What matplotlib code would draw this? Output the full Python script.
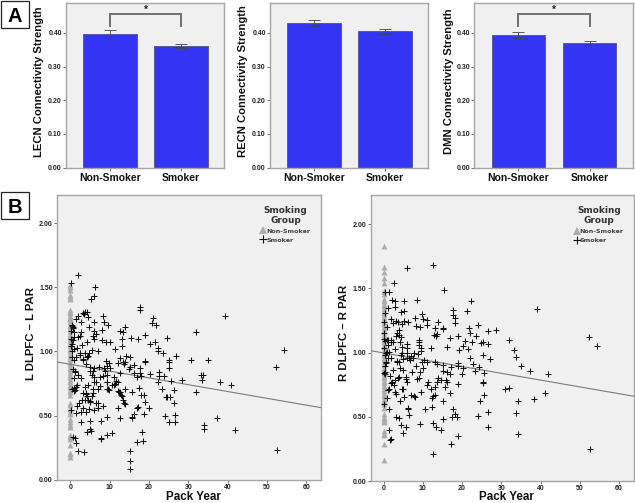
import matplotlib
matplotlib.use("Agg")
import matplotlib.pyplot as plt
from matplotlib.lines import Line2D
from matplotlib.patches import Rectangle
from matplotlib.transforms import ScaledTranslation

W, H = 635, 503
SANS = ["Liberation Sans", "DejaVu Sans"]
plt.rcParams["font.family"] = SANS

groups = ["Non-Smoker", "Smoker"]
lecn_vals = [0.398, 0.362]
lecn_err = [0.0105, 0.006]
recn_vals = [0.430, 0.405]
recn_err = [0.010, 0.008]
dmn_vals = [0.394, 0.369]
dmn_err = [0.009, 0.006]
bar_ticks = [0.0, 0.1, 0.2, 0.3, 0.4]
scatter_yticks = [0.0, 0.5, 1.0, 1.5, 2.0]
scatter_xticks = [0, 10, 20, 30, 40, 50, 60]

l_nonsmoker = [1.52, 1.50, 1.48, 1.44, 1.43, 1.42, 1.41, 1.32, 1.31, 1.30, 1.28, 1.26, 1.25, 1.23, 1.21,
               1.20, 1.18, 1.16, 1.14, 1.12, 1.10, 1.08, 1.06, 1.04, 1.02, 1.00, 0.98, 0.96, 0.94, 0.92,
               0.90, 0.88, 0.86, 0.84, 0.82, 0.80, 0.78, 0.76, 0.74, 0.72, 0.70, 0.68, 0.66, 0.60, 0.58,
               0.55, 0.53, 0.51, 0.47, 0.45, 0.43, 0.41, 0.35, 0.33, 0.32, 0.27, 0.21, 0.20, 0.18]
l_smoker_x = [2.0, 0.2, 6.2, 5.9, 5.2, 17.7, 17.6, 39.3, 8.3, 8.5, 9.6, 21.1, 20.7, 21.7, 31.9, 24.5, 18.9, 15.4,
              17.1, 13.9, 12.6, 13.3, 13.1, 13.1, 11.4, 10.2, 9.1, 8.1, 8.0, 4.3, 3.7, 3.1, 3.5, 1.9, 1.4, 2.6,
              0.5, 0.3, 0.6, 0.1, 6.0, 4.8, 6.0, 6.4, 5.7, 6.1, 2.5, 1.0, 2.0, 0.8, 2.7, 4.3, 0.7, 0.2, 0.8, 1.7,
              2.5, 3.6, 4.6, 5.4, 4.7, 2.9, 7.0, 30.8, 35.1, 33.2, 33.8, 33.6, 38.2, 41.0, 31.9, 37.2, 34.1, 34.1,
              41.9, 52.5, 52.4, 54.3, 26.9, 25.2, 25.2, 25.2, 23.6, 22.3, 22.2, 22.6, 22.6, 23.9, 22.2, 25.6, 23.3,
              26.4, 24.3, 25.3, 24.7, 26.4, 24.1, 26.7, 25.1, 26.5, 28.5, 20.3, 21.6, 19.1, 18.9, 20.2, 18.8, 18.1,
              18.9, 19.9, 18.8, 17.5, 18.6, 18.3, 17.0, 15.7, 16.1, 16.9, 17.2, 15.6, 15.1, 15.1, 15.1, 2.0, 3.4,
              1.4, 0.7, 1.1, 7.7, 7.9, 9.3, 10.7, 4.3, 5.0, 5.3, 2.6, 5.0, 7.9, 9.3, 12.6, 15.6, 1.5, 0.1, 2.6,
              4.0, 4.8, 6.1, 3.3, 1.6, 8.2, 12.2, 13.1, 13.3, 13.7, 14.0, 12.2, 12.6, 14.0, 7.0, 4.6, 3.6, 5.0,
              3.3, 4.1, 5.7, 5.8, 7.0, 9.3, 9.7, 9.3, 6.1, 4.6, 3.7, 0.4, 0.8, 1.2, 1.5, 1.0, 1.6, 17.6, 16.2, 14.9,
              15.2, 14.2, 15.2, 13.3, 13.9, 12.6, 12.0, 12.6, 16.1, 17.0, 17.7, 18.0, 11.0, 12.1, 11.4, 9.4, 7.6,
              5.9, 9.2, 11.0, 12.3, 9.0, 9.9, 9.3, 10.1, 7.3, 6.1, 5.7, 5.0, 3.9, 3.3, 2.4, 1.5, 1.0, 0.5, 0.3,
              0.6, 1.2, 1.9, 2.8, 3.2, 4.2, 4.9, 5.5, 6.6, 7.5, 8.6, 0.4, 0.9, 1.3, 0.2, 0.7, 4.5, 3.9, 3.0, 2.2,
              4.2, 5.1, 5.6, 6.4, 7.0, 8.3, 8.9, 9.8, 10.5, 11.7, 13.0, 13.6]
l_smoker_y = [1.60, 1.53, 1.505, 1.43, 1.41, 1.345, 1.32, 1.275, 1.277, 1.233, 1.207, 1.26, 1.222, 1.207, 1.15, 1.103,
              1.126, 1.108, 1.098, 1.19, 1.163, 1.15, 1.095, 1.043, 1.02, 1.07, 1.07, 1.09, 1.165, 1.31, 1.31, 1.30,
              1.29, 1.28, 1.25, 1.23, 1.21, 1.20, 1.18, 1.16, 1.233, 1.19, 1.157, 1.14, 1.12, 1.10, 1.12, 1.11, 1.11,
              1.155, 1.155, 1.07, 1.09, 1.04, 1.02, 1.03, 0.985, 0.99, 0.965, 1.015, 0.99, 1.05, 1.0, 0.936, 0.93,
              0.817, 0.817, 0.777, 0.76, 0.736, 0.684, 0.484, 0.43, 0.398, 0.39, 0.234, 0.876, 1.01, 0.962, 0.936,
              0.92, 0.869, 0.99, 1.0, 1.03, 0.843, 0.809, 0.806, 0.765, 0.767, 0.71, 0.70, 0.642, 0.642, 0.642, 0.598,
              0.494, 0.502, 0.452, 0.447, 0.777, 1.06, 1.077, 0.928, 0.915, 0.824, 0.658, 0.658, 0.608, 0.559, 0.512,
              0.713, 0.304, 0.369, 0.294, 0.486, 0.515, 0.562, 0.565, 0.681, 0.22, 0.148, 0.082, 0.22, 0.217, 0.29,
              0.33, 0.325, 0.327, 0.316, 0.346, 0.366, 0.375, 0.393, 0.377, 0.447, 0.458, 0.457, 0.49, 0.48, 0.483,
              0.517, 0.54, 0.53, 0.53, 0.55, 0.54, 0.56, 0.575, 0.578, 0.56, 0.65, 0.62, 0.595, 0.59, 0.69, 0.68,
              0.705, 0.60, 0.625, 0.625, 0.61, 0.675, 0.675, 0.705, 0.675, 0.71, 0.71, 0.705, 0.765, 0.76, 0.74,
              0.725, 0.71, 0.715, 0.70, 0.72, 0.69, 0.735, 0.874, 0.895, 0.863, 0.879, 0.965, 0.96, 0.92, 0.915,
              0.952, 0.908, 0.83, 0.83, 0.804, 0.83, 0.811, 0.804, 0.765, 0.744, 0.817, 0.804, 0.804, 0.76, 0.739,
              0.687, 0.925, 0.91, 0.885, 0.87, 0.88, 0.87, 0.845, 0.88, 0.905, 0.945, 0.97, 0.955, 0.93, 0.96, 1.06,
              0.865, 0.845, 0.82, 0.79, 0.93, 0.96, 0.85, 0.82, 0.76, 0.73, 0.87, 1.0, 0.79, 0.84, 1.10, 1.19, 1.27,
              0.665, 0.62, 0.60, 0.655, 0.605, 0.655, 0.60, 0.56, 0.81, 0.85, 0.70, 0.74, 0.77, 0.66, 0.90, 0.62]

r_nonsmoker = [1.83, 1.67, 1.63, 1.58, 1.54, 1.48, 1.46, 1.42, 1.40, 1.38, 1.36, 1.34, 1.32, 1.30, 1.28, 1.26, 1.24,
               1.22, 1.20, 1.18, 1.16, 1.14, 1.12, 1.10, 1.08, 1.06, 1.04, 1.02, 1.00, 0.98, 0.96, 0.94, 0.92, 0.90,
               0.88, 0.86, 0.84, 0.82, 0.80, 0.78, 0.76, 0.74, 0.72, 0.70, 0.68, 0.66, 0.64, 0.62, 0.60, 0.57, 0.52,
               0.50, 0.48, 0.47, 0.46, 0.39, 0.37, 0.36, 0.29, 0.16]
r_smoker_x = [6.0, 12.7, 15.3, 2.6, 39.2, 22.2, 21.2, 8.6, 17.8, 17.6, 18.1, 18.2, 13.9, 8.0, 9.9, 10.1, 11.1, 11.0,
              8.2, 9.2, 13.1, 15.1, 15.0, 21.8, 24.0, 22.1, 23.5, 26.5, 28.6, 32.0, 33.2, 33.8, 35.1, 37.2, 41.9, 12.8,
              13.4, 13.7, 20.8, 21.5, 20.3, 16.1, 16.9, 18.9, 19.2, 22.6, 24.7, 25.4, 26.5, 25.2, 27.0, 22.1, 22.7,
              24.2, 23.4, 25.5, 20.2, 19.9, 19.0, 19.0, 18.9, 25.2, 25.3, 17.0, 17.2, 16.2, 15.1, 15.0, 13.1, 13.6,
              12.0, 11.1, 30.8, 32.0, 41.1, 38.3, 34.3, 24.6, 25.6, 33.7, 26.7, 24.1, 26.5, 34.3, 52.6, 52.3, 54.3,
              18.9, 17.1, 18.2, 17.6, 18.6, 17.3, 15.1, 15.1, 17.0, 15.6, 16.1, 15.9, 14.5, 13.8, 13.5, 13.1, 13.1,
              12.7, 12.2, 12.2, 10.6, 12.5, 13.4, 14.5, 12.7, 9.3, 6.5, 6.1, 6.3, 3.2, 3.9, 4.4, 5.6, 5.0, 1.4, 1.7,
              2.0, 5.3, 4.2, 3.0, 3.2, 6.9, 7.7, 8.0, 9.5, 11.0, 11.2, 12.0, 8.6, 8.9, 5.9, 5.7, 4.6, 5.0, 1.4, 2.0,
              2.6, 0.2, 1.3, 0.8, 1.4, 0.4, 2.1, 3.0, 5.2, 2.9, 4.3, 5.1, 1.2, 0.3, 1.8, 3.1, 3.6, 2.5, 5.3, 6.3, 0.1,
              0.8, 4.8, 4.0, 3.5, 3.1, 4.0, 4.3, 0.8, 1.2, 2.0, 2.5, 4.2, 4.7, 6.0, 6.0, 2.9, 0.8, 1.4, 0.1, 0.5, 4.6,
              4.3, 6.0, 8.9, 9.1, 9.0, 9.5, 9.4, 7.8, 6.9, 8.8, 6.0, 6.5, 6.7, 5.0, 3.3, 3.9, 2.0, 1.2, 0.5, 0.3, 0.3,
              0.4, 1.6, 2.5, 4.2, 5.0, 7.6, 8.2, 9.8, 10.3, 10.1, 9.3, 7.1, 4.0, 3.6, 5.6, 0.2, 0.1, 0.3, 0.4, 0.2,
              1.0, 1.9, 3.4, 3.0, 2.2, 1.1, 0.6]
r_smoker_y = [1.662, 1.68, 1.486, 1.545, 1.34, 1.405, 1.325, 1.413, 1.332, 1.29, 1.273, 1.234, 1.239, 1.267, 1.30, 1.26,
              1.255, 1.218, 1.205, 1.203, 1.19, 1.19, 1.185, 1.195, 1.218, 1.153, 1.127, 1.166, 1.177, 1.096, 1.018,
              0.964, 0.896, 0.857, 0.836, 1.138, 1.132, 1.143, 1.094, 1.026, 1.055, 1.042, 1.114, 1.127, 1.02, 1.08,
              1.073, 1.086, 1.065, 0.984, 0.951, 0.961, 0.912, 0.886, 0.86, 0.842, 0.883, 0.834, 0.917, 0.899, 0.758,
              0.774, 0.765, 0.831, 0.891, 0.852, 0.906, 0.855, 0.93, 0.912, 1.034, 0.925, 0.719, 0.725, 0.683, 0.636,
              0.621, 0.621, 0.668, 0.532, 0.535, 0.506, 0.421, 0.364, 0.252, 1.119, 1.055, 0.348, 0.288, 0.519, 0.561,
              0.496, 0.496, 0.483, 0.626, 0.688, 0.735, 0.769, 0.785, 0.784, 0.80, 0.774, 0.735, 0.67, 0.665, 0.579,
              0.644, 0.558, 0.449, 0.423, 0.395, 0.21, 0.442, 0.514, 0.566, 0.56, 0.499, 0.488, 0.436, 0.421, 0.374,
              0.397, 0.319, 0.327, 0.652, 0.626, 0.69, 0.68, 0.67, 0.665, 0.657, 0.696, 0.748, 0.774, 0.72, 0.792, 0.80,
              0.774, 0.795, 0.72, 0.715, 0.717, 0.766, 0.748, 0.60, 0.558, 0.644, 1.475, 1.47, 1.408, 1.405, 1.405,
              1.358, 1.32, 1.327, 1.345, 1.306, 1.26, 1.247, 1.24, 1.234, 1.25, 1.239, 1.236, 1.2, 1.22, 1.18, 1.15,
              1.13, 1.138, 1.125, 1.10, 1.095, 1.086, 1.08, 1.086, 1.042, 1.065, 1.034, 1.029, 1.008, 1.008, 1.034,
              0.995, 0.995, 0.982, 0.995, 1.099, 1.085, 1.06, 1.039, 1.016, 0.997, 0.977, 0.987, 0.956, 0.956, 0.943,
              0.951, 0.935, 0.93, 0.956, 0.956, 0.93, 0.896, 0.852, 0.831, 0.821, 0.865, 0.878, 0.865, 0.956, 0.896,
              0.93, 0.943, 0.878, 0.852, 0.85, 0.813, 0.80, 0.813, 1.15, 1.11, 1.09, 0.98, 0.84, 1.06, 1.10, 0.93,
              0.79, 0.77, 0.71, 0.92]

l_fit_x = [-3.4, 63.7]
l_fit_y = [0.918, 0.562]
r_fit_x = [-3.3, 63.8]
r_fit_y = [1.015, 0.660]

n_l = min(len(l_smoker_x), len(l_smoker_y))
n_r = min(len(r_smoker_x), len(r_smoker_y))


def px_axes(fig, left, top, right, bottom):
    return fig.add_axes([left / W, 1 - bottom / H, (right - left) / W, (bottom - top) / H])


BG = "#f0f0f0"
FRAME = "#a6a6a6"
TICK = "#555555"


def style(ax, tick_size):
    ax.set_facecolor(BG)
    for s in ax.spines.values():
        s.set_color(FRAME)
        s.set_linewidth(1.0)
    ax.tick_params(labelcolor="#222222", labelsize=tick_size, length=2, width=0.6, pad=1, color=TICK)
    for t in ax.get_xticklabels() + ax.get_yticklabels():
        t.set_fontweight("bold")


fig = plt.figure(figsize=(W / 100, H / 100), dpi=100, facecolor="white")


def bar_panel(box, vals, errs, ylabel, label_px, xlim, bracket):
    ax = px_axes(fig, *box)
    ax.bar([0, 1], vals, width=0.756, color="#3434f5", edgecolor="#5a5a9a", linewidth=0.7, zorder=2)
    ax.errorbar([0, 1], vals, yerr=errs, fmt="none", ecolor="#444444", elinewidth=0.6, capsize=4.4,
                capthick=0.6, zorder=3)
    ax.set_xlim(*xlim)
    ax.set_ylim(0, 0.49)
    ax.set_yticks(bar_ticks)
    ax.set_yticklabels([f"{v:.2f}" for v in bar_ticks])
    ax.set_xticks([0, 1])
    ax.set_xticklabels(groups)
    style(ax, 5.0)
    shift = ScaledTranslation(3.5 / 100, 0, fig.dpi_scale_trans)
    for t in ax.get_xticklabels():
        t.set_fontsize(7.5)
        t.set_color("#111111")
        t.set_transform(t.get_transform() + shift)
    ax.tick_params(axis="x", pad=2)
    fig.text(label_px / W, 1 - 81.5 / H, ylabel, rotation=90, fontsize=8.1, fontweight="bold",
             ha="center", va="center", color="#111111")
    if bracket:
        ax.plot([0, 0, 1, 1], [0.421, 0.457, 0.457, 0.421], color="#707070", lw=1.4, zorder=4,
                solid_joinstyle="miter", clip_on=False)
        ax.text(0.5, 0.470, "*", fontsize=7, fontweight="bold", ha="center", va="center", color="#222222")
    return ax


bar_panel((66, 2.7, 224.3, 167.5), lecn_vals, lecn_err, "LECN Connectivity Strength", 39, (-0.62, 1.61), True)
bar_panel((270, 2.7, 428, 167.5), recn_vals, recn_err, "RECN Connectivity Strength", 243, (-0.62, 1.61), False)
bar_panel((474.3, 2.7, 633, 167.5), dmn_vals, dmn_err, "DMN Connectivity Strength", 449, (-0.62, 1.61), True)


def scatter_panel(box, xlim, ylim, ny, sx, sy, fx, fy, ylabel, label_px, legend_xy, xlabel_px):
    ax = px_axes(fig, *box)
    ax.scatter([0] * len(ny), ny, marker="^", s=18, color="#acacac", linewidths=0, zorder=2)
    ax.plot(fx, fy, color="#7a7a7a", lw=0.8, zorder=3)
    ax.plot(sx, sy, linestyle="none", marker="+", markersize=4.8, mew=0.75, color="#111111", zorder=4)
    ax.set_xlim(*xlim)
    ax.set_ylim(*ylim)
    ax.set_xticks(scatter_xticks)
    ax.set_xticklabels([str(v) for v in scatter_xticks])
    ax.set_yticks(scatter_yticks)
    ax.set_yticklabels([f"{v:.2f}" for v in scatter_yticks])
    style(ax, 5.0)
    fig.text(xlabel_px / W, 1 - 497 / H, "Pack Year", fontsize=8.4, fontweight="bold", ha="center",
             va="center", color="#111111")
    fig.text(label_px / W, 1 - 333 / H, ylabel, rotation=90, fontsize=8.2, fontweight="bold",
             ha="center", va="center", color="#111111")
    handles = [
        Line2D([], [], linestyle="none", marker="^", markersize=6, color="#acacac", mew=0),
        Line2D([], [], linestyle="none", marker="+", markersize=5.2, color="#111111", mew=0.8),
    ]
    leg = ax.legend(handles, groups, title="Smoking\nGroup", loc="upper left",
                    bbox_to_anchor=(legend_xy[0], legend_xy[1]), frameon=False, borderpad=0, borderaxespad=0,
                    handlelength=0.8, handletextpad=0.12, labelspacing=0.55, alignment="center",
                    prop={"family": "DejaVu Sans", "weight": "bold", "size": 4.6},
                    title_fontproperties={"family": "DejaVu Sans", "weight": "bold", "size": 6.4})
    for t in leg.get_texts():
        t.set_color("#444444")
    leg.get_title().set_color("#333333")
    leg.get_title().set_linespacing(1.05)
    leg.get_title().set_multialignment("center")
    return ax


scatter_panel((57, 195, 320.7, 479.7), (-3.4, 63.7), (0, 2.22), l_nonsmoker, l_smoker_x[:n_l], l_smoker_y[:n_l],
              l_fit_x, l_fit_y, "L DLPFC \u2013 L PAR", 31, (0.772, 0.96), 193)
scatter_panel((370.7, 195, 634, 481), (-3.3, 63.8), (0, 2.228), r_nonsmoker, r_smoker_x[:n_r], r_smoker_y[:n_r],
              r_fit_x, r_fit_y, "R DLPFC \u2013 R PAR", 344, (0.772, 0.96), 506)

for (x0, y0, x1, y1, letter) in [(1, 1, 29, 28, "A"), (1, 192, 29, 219, "B")]:
    fig.add_artist(Rectangle((x0 / W, 1 - y1 / H), (x1 - x0) / W, (y1 - y0) / H, transform=fig.transFigure,
                             facecolor="white", edgecolor="#222222", linewidth=0.9))
    fig.text((x0 + x1) / 2 / W, 1 - (y0 + y1) / 2 / H, letter, fontsize=14.5, fontweight="bold",
             ha="center", va="center_baseline", color="black")

fig.savefig("out.png", dpi=100, facecolor="white")
